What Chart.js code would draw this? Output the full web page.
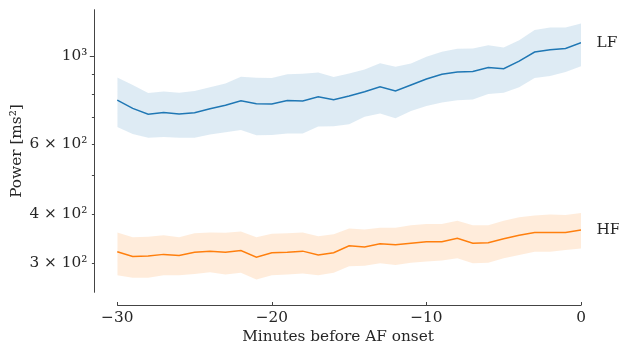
<!DOCTYPE html>
<html><head><meta charset="utf-8">
<script src="https://cdn.jsdelivr.net/npm/chart.js@4.4.1/dist/chart.umd.min.js"></script>
<style>html,body{margin:0;padding:0;background:#fff}#wrap{width:619px;height:347px}</style>
</head><body><div id="wrap"><canvas id="c" width="619" height="347"></canvas></div>
<script>
const minutes = [-30,-29,-28,-27,-26,-25,-24,-23,-22,-21,-20,-19,-18,-17,-16,-15,-14,-13,-12,-11,-10,-9,-8,-7,-6,-5,-4,-3,-2,-1,0];
const lfMean  = [773,737,713,720,714,719,736,751,770,757,756,772,770,789,775,792,812,836,816,844,874,899,910,913,935,928,970,1022,1036,1044,1079];
const lfUpper = [882,844,806,813,807,815,833,852,886,880,879,899,901,908,884,903,924,958,938,957,994,1024,1042,1044,1064,1050,1095,1161,1179,1179,1207];
const lfLower = [662,635,622,624,622,622,634,642,650,631,632,637,637,664,665,672,702,716,696,726,747,763,773,776,801,807,833,879,889,910,942];
const hfMean  = [321,312,313,316,314,320,322,320,323,311,319,320,322,315,319,332,330,336,334,337,340,340,347,337,338,346,353,359,359,359,364];
const hfUpper = [359,349,350,353,349,357,359,358,361,349,356,357,359,351,355,367,365,369,369,374,377,377,384,374,374,384,392,396,398,397,402];
const hfLower = [280,276,276,280,280,282,285,281,284,273,280,281,283,280,284,295,296,300,297,301,303,305,309,300,301,309,315,321,321,324,327];
const seriesNames = ['LF','HF'];
const xTicks = [-30,-20,-10,0];
const yTicks = [300,400,500,600,700,800,900,1000];
const yMajor = [1000];
const yTickLabels = {300:'3 × 10²', 400:'4 × 10²', 600:'6 × 10²', 1000:'10³'};
const xTitle = 'Minutes before AF onset';
const yTitle = 'Power [ms²]';

const FONT = 'DejaVu Serif';
const FS = 15.3;
const TXT = '#262626';
const SPINE = '#444444';
const pts = arr => arr.map((v,i)=>({x:minutes[i], y:v}));

const band = (data, color) => ({data: pts(data), borderWidth:0, pointRadius:0, backgroundColor: color, fill:false, tension:0});

const ds = [];
ds.push(Object.assign(band(lfUpper,'rgba(31,119,180,0.15)'), {fill:'+1'}));
ds.push(band(lfLower,'rgba(31,119,180,0.15)'));
ds.push({data: pts(lfMean), borderColor:'#1f77b4', borderWidth:1.5, pointRadius:0, fill:false, label:seriesNames[0]});
ds.push(Object.assign(band(hfUpper,'rgba(255,127,14,0.15)'), {fill:'+1'}));
ds.push(band(hfLower,'rgba(255,127,14,0.15)'));
ds.push({data: pts(hfMean), borderColor:'#ff7f0e', borderWidth:1.5, pointRadius:0, fill:false, label:seriesNames[1]});

const axesPlugin = {
  id:'axesPlugin',
  afterDraw(chart){
    const ctx = chart.ctx, ca = chart.chartArea;
    const xs = chart.scales.x, ys = chart.scales.y;
    ctx.save();
    ctx.strokeStyle = SPINE; ctx.lineWidth = 1;
    const sx = Math.round(ca.left) - 0.5;
    ctx.beginPath(); ctx.moveTo(sx, ca.top); ctx.lineTo(sx, ca.bottom); ctx.stroke();
    yTicks.forEach(v=>{
      const py = Math.round(ys.getPixelForValue(v)) + 0.5;
      const len = yMajor.includes(v) ? 4.7 : 2.6;
      ctx.beginPath(); ctx.moveTo(sx, py); ctx.lineTo(sx - len, py); ctx.stroke();
    });
    const yy = 305.5;
    const x0 = xs.getPixelForValue(xTicks[0]), x1 = xs.getPixelForValue(xTicks[xTicks.length-1]);
    ctx.beginPath(); ctx.moveTo(x0, yy); ctx.lineTo(x1, yy); ctx.stroke();
    xTicks.forEach(v=>{
      const px = Math.round(xs.getPixelForValue(v)) + 0.5;
      ctx.beginPath(); ctx.moveTo(px, yy); ctx.lineTo(px, yy - 3.5); ctx.stroke();
    });
    ctx.fillStyle = TXT; ctx.font = FS + 'px "' + FONT + '"';
    ctx.textAlign = 'left'; ctx.textBaseline = 'middle';
    const ends = [lfMean[lfMean.length-1], hfMean[hfMean.length-1]];
    seriesNames.forEach((n,i)=>{
      ctx.fillText(n, xs.getPixelForValue(minutes[minutes.length-1]) + 15.5, ys.getPixelForValue(ends[i]));
    });
    ctx.restore();
  }
};

new Chart(document.getElementById('c'), {
  type:'line',
  data:{datasets: ds},
  options:{
    responsive:false, animation:false, devicePixelRatio:1,
    layout:{padding:{top:9.3, right:38, left:0, bottom:0}},
    plugins:{legend:{display:false}, tooltip:{enabled:false}},
    elements:{line:{tension:0}},
    scales:{
      x:{type:'linear', min:-31.44, max:0,
        grid:{display:false, drawTicks:false}, border:{display:false},
        afterBuildTicks: s => { s.ticks = xTicks.map(v=>({value:v})); },
        afterFit: s => { s.height = 54.3; s.paddingLeft = 0; s.paddingRight = 0; },
        ticks:{font:{family:FONT, size:FS}, color:TXT, padding:16, maxRotation:0, autoSkip:false,
          callback: v => v < 0 ? '\u2212' + Math.abs(v) : String(v)},
        title:{display:true, text:xTitle, font:{family:FONT, size:FS}, color:TXT, padding:{top:0, bottom:1}}
      },
      y:{type:'logarithmic', min:253, max:1310,
        grid:{display:false, drawTicks:false}, border:{display:false},
        afterBuildTicks: s => { s.ticks = yTicks.map(v=>({value:v})); },
        afterFit: s => { s.width = 95; s.paddingTop = 0; s.paddingBottom = 0; },
        ticks:{font:{family:FONT, size:FS}, color:TXT, padding:7.7, autoSkip:false,
          callback: v => yTickLabels[v] || ''},
        title:{display:true, text:yTitle, font:{family:FONT, size:FS}, color:TXT, padding:{top:7.8, bottom:0}}
      }
    }
  },
  plugins:[axesPlugin]
});
</script></body></html>
